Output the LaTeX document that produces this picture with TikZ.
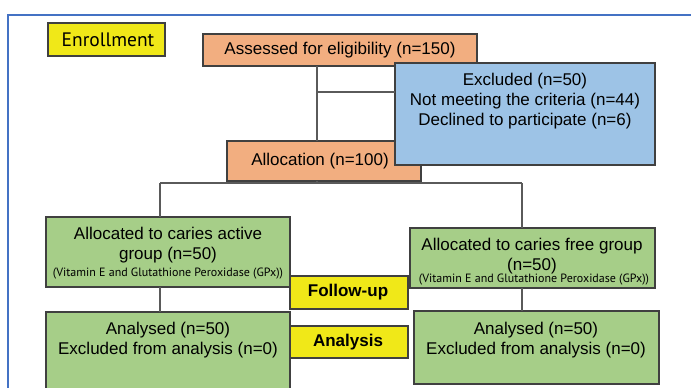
\documentclass[tikz,border=0pt]{standalone}
\usepackage{fontspec}
\setmainfont{Liberation Sans}
\newfontfamily\humfont{PT Sans}
\newfontfamily\narrowfont{PT Sans}
\definecolor{frameblue}{RGB}{68,114,196}
\definecolor{enyellow}{RGB}{240,232,24}
\definecolor{boxorange}{RGB}{242,174,128}
\definecolor{boxblue}{RGB}{157,195,230}
\definecolor{boxgreen}{RGB}{166,206,136}
\definecolor{edgegrey}{RGB}{64,64,64}
\definecolor{linegrey}{RGB}{90,90,90}
\tikzset{
  box/.style={draw=edgegrey, line width=1.2pt, inner sep=0pt, outer sep=0pt, anchor=north west},
  txt/.style={inner sep=0pt, align=center, font=\fontsize{17}{20}\selectfont},
  small/.style={inner sep=0pt, align=center, font=\narrowfont\fontsize{12}{14}\selectfont},
  conn/.style={draw=linegrey, line width=1.4pt},
}
\begin{document}
\begin{tikzpicture}[x=1pt,y=-1pt]
\useasboundingbox (0,0) rectangle (691,388);
\clip (0,0) rectangle (691,388);
\fill[white] (0,0) rectangle (691,388);
\draw[frameblue, line width=1.2pt] (8,15) rectangle (720,420);

% junction points
\coordinate (jA) at (317,92);
\coordinate (jB) at (317,183);
\coordinate (jL) at (160,183);
\coordinate (jR) at (522,183);

% boxes
\node[box, fill=enyellow, minimum width=117pt, minimum height=33pt] (enr) at (48,23) {};
\node[box, fill=boxorange, minimum width=274pt, minimum height=32pt] (ass) at (203,34) {};
\node[box, fill=boxorange, minimum width=194pt, minimum height=40pt] (alloc) at (227,141) {};
\node[box, fill=boxgreen, minimum width=244pt, minimum height=70pt] (gl1) at (46,217) {};
\node[box, fill=boxgreen, minimum width=245pt, minimum height=60pt] (gr1) at (410,228) {};
\node[box, fill=boxgreen, minimum width=244pt, minimum height=100pt] (gl2) at (46,312) {};
\node[box, fill=boxgreen, minimum width=245pt, minimum height=73pt] (gr2) at (414,311) {};

\draw[conn] (ass.south -| jA) -- (alloc.north -| jA);
\draw[conn] (alloc.south -| jB) -- (jB);
\draw[conn] (jL) -- (jR);
\draw[conn] (jL) -- (gl1.north -| jL);
\draw[conn] (jR) -- (gr1.north -| jR);
\draw[conn] (gl1.south -| jL) -- (gl2.north -| jL);
\draw[conn] (gr1.south -| jR) -- (gr2.north -| jR);

\node[box, fill=boxblue, minimum width=260pt, minimum height=102pt] (exc) at (395,63) {};
\draw[conn] (jA) -- (exc.west |- jA);
\node[box, fill=enyellow, minimum width=118pt, minimum height=33pt] (fol) at (290,276) {};
\node[box, fill=enyellow, minimum width=118pt, minimum height=32pt] (ana) at (290,326) {};

% texts
\node[inner sep=0pt, font=\humfont\fontsize{19.5}{20}\selectfont] (tenr) at (108,40) {Enrollment};
\node[txt] (tass) at (340,50) {Assessed for eligibility (n=150)};
\node[txt, anchor=north] (texc) at (525,73) {Excluded (n=50)\\Not meeting the criteria (n=44)\\Declined to participate (n=6)};
\node[txt] (talloc) at (320,161) {Allocation (n=100)};
\node[txt, anchor=north] (tgl1) at (168,227) {Allocated to caries active\\group (n=50)};
\node[small] (sgl1) at (168,274) {(Vitamin E and Glutathione Peroxidase (GPx))};
\node[txt, anchor=north] (tgr1) at (532,238) {Allocated to caries free group\\(n=50)};
\node[small] (sgr1) at (534,280) {(Vitamin E and Glutathione Peroxidase (GPx))};
\node[txt, anchor=north] (tgl2) at (168,322) {Analysed (n=50)\\Excluded from analysis (n=0)};
\node[txt, anchor=north] (tgr2) at (536,322) {Analysed (n=50)\\Excluded from analysis (n=0)};
\node[txt, font=\bfseries\fontsize{17}{20}\selectfont] (tfol) at (348,292) {Follow-up};
\node[txt, font=\bfseries\fontsize{17}{20}\selectfont] (tana) at (348,342) {Analysis};
\end{tikzpicture}
\end{document}
